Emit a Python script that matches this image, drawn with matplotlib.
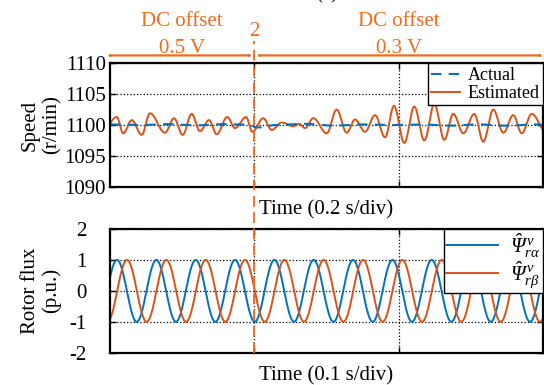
import numpy as np
import matplotlib
matplotlib.use("Agg")
import matplotlib.pyplot as plt
from matplotlib.lines import Line2D
from matplotlib.patches import FancyArrowPatch
from matplotlib import transforms

# speed plot (time in s, 0.2 s/div) - local extrema
est_t = [-0.008, 0.0093, 0.0184, 0.0301, 0.0439, 0.0554, 0.0762, 0.0887, 0.1007,
         0.1132, 0.1247, 0.1372, 0.1478, 0.1625, 0.1732, 0.1885, 0.1972, 0.2124,
         0.2241, 0.2379, 0.2540, 0.2620, 0.2702, 0.2817, 0.3003, 0.3141, 0.3280,
         0.3395, 0.3533, 0.3672, 0.3811, 0.3935, 0.4078, 0.4216, 0.4355, 0.4494,
         0.4632, 0.4757, 0.4895, 0.5048, 0.5172, 0.5311, 0.5450, 0.5588, 0.5705,
         0.5843, 0.6050]
est_v = [1099.5, 1101.3, 1098.65, 1100.8, 1098.4, 1101.9, 1098.75, 1101.1, 1098.4,
         1101.8, 1099.0, 1100.8, 1098.5, 1101.3, 1099.5, 1101.3, 1098.9, 1101.1,
         1099.2, 1100.4, 1099.8, 1100.2, 1099.5, 1101.1, 1098.65, 1102.5, 1098.75,
         1100.9, 1098.9, 1101.6, 1098.0, 1103.1, 1097.1, 1103.0, 1097.5, 1103.4,
         1097.6, 1101.8, 1098.65, 1101.8, 1097.3, 1102.5, 1098.75, 1101.6, 1098.65,
         1101.8, 1098.7]
act_t = [0.0, 0.04, 0.08, 0.12, 0.16, 0.19, 0.205, 0.23, 0.27, 0.31, 0.35, 0.39,
         0.43, 0.47, 0.51, 0.55, 0.59, 0.61]
act_v = [1100.1, 1100.0, 1100.15, 1099.95, 1100.15, 1100.05, 1099.6, 1100.0, 1100.2,
         1099.9, 1100.1, 1100.0, 1100.1, 1099.9, 1100.1, 1099.9, 1100.1, 1100.0]

# rotor flux plot (time in s, 0.1 s/div) - peak/trough times
alpha_t = [-0.0088, 0.0049, 0.0185, 0.0321, 0.0457, 0.0594, 0.0730, 0.0866, 0.1003,
           0.1139, 0.1275, 0.1411, 0.1548, 0.1684, 0.1820, 0.1957, 0.2092, 0.2229,
           0.2365, 0.2502, 0.2638, 0.2774, 0.2910, 0.3046]
beta_t = [-0.0018, 0.0118, 0.0254, 0.0390, 0.0527, 0.0663, 0.0799, 0.0935, 0.1072,
          0.1208, 0.1344, 0.1480, 0.1617, 0.1753, 0.1889, 0.2025, 0.2162, 0.2298,
          0.2434, 0.2570, 0.2707, 0.2843, 0.2979, 0.3115]
alpha_v = [-1, 1] * 12
beta_v = [-1, 1] * 12

speed_ticks = [1090, 1095, 1100, 1105, 1110]
flux_ticks = [-2, -1, 0, 1, 2]

BLUE = '#0072BD'
RED = '#D95319'
ORANGE = '#F26B1D'


def through_extrema(t_ext, v_ext, n=30):
    # join successive extrema with half-cosine segments
    ts, vs = [], []
    for i in range(len(t_ext) - 1):
        s = np.linspace(0, 1, n, endpoint=False)
        ts.append(t_ext[i] + (t_ext[i + 1] - t_ext[i]) * s)
        vs.append(v_ext[i] + (v_ext[i + 1] - v_ext[i]) * (1 - np.cos(np.pi * s)) / 2)
    ts.append([t_ext[-1]])
    vs.append([v_ext[-1]])
    return np.concatenate(ts), np.concatenate(vs)


plt.rcParams['font.family'] = ['Liberation Serif', 'DejaVu Serif']
plt.rcParams['mathtext.fontset'] = 'custom'
plt.rcParams['mathtext.rm'] = 'Liberation Serif:italic'
plt.rcParams['mathtext.it'] = 'Liberation Serif:italic'
plt.rcParams['axes.unicode_minus'] = False
plt.rcParams['font.size'] = 15

fig = plt.figure(figsize=(5.44, 3.85), dpi=100)
ax1 = fig.add_axes([0.2022, 0.515, 0.796, 0.3205])
ax2 = fig.add_axes([0.2022, 0.0839, 0.796, 0.3213])

for ax in (ax1, ax2):
    for sp in ax.spines.values():
        sp.set_linewidth(1.6)
    ax.tick_params(direction='in', length=4, width=1, top=True, right=True,
                   labelbottom=False)
    ax.grid(True, linestyle=':', color='black', linewidth=0.9)

# speed
tt, vv = through_extrema(est_t, est_v)
ax1.plot(tt, vv, color=RED, lw=1.4, label='Estimated')
ta, va = through_extrema(act_t, act_v)
ax1.plot(ta, va, color=BLUE, lw=1.5, ls=(0, (5, 3.5)), label='Actual')
ax1.set_xlim(0, 0.6)
ax1.set_ylim(1090, 1110)
ax1.set_xticks([0.2, 0.4])
ax1.set_yticks(speed_ticks)
ax1.tick_params(axis='y', pad=3)
ax1.set_ylabel('Speed\n(r/min)', linespacing=1.15)
ax1.yaxis.set_label_coords(-0.112, 0.5)
ax1.set_xlabel('Time (0.2 s/div)', labelpad=10)
h, l = ax1.get_legend_handles_labels()
leg1 = ax1.legend(h[::-1], l[::-1], loc='upper right', fontsize=13, frameon=True,
                  fancybox=False, edgecolor='black', framealpha=1,
                  borderaxespad=0, borderpad=0.2, labelspacing=0.05,
                  handlelength=1.6, handletextpad=0.4)
leg1.get_frame().set_linewidth(1.0)

# rotor flux
tx, ya = through_extrema(alpha_t, alpha_v)
ax2.plot(tx, ya, color=BLUE, lw=1.4, label=r'$\hat{\Psi}^{\,v}_{r\alpha}$')
tx, yb = through_extrema(beta_t, beta_v)
ax2.plot(tx, yb, color=RED, lw=1.4, label=r'$\hat{\Psi}^{\,v}_{r\beta}$')
ax2.set_xlim(0, 0.3)
ax2.set_ylim(-2, 2)
ax2.set_xticks([0.1, 0.2])
ax2.set_yticks(flux_ticks)
ax2.tick_params(axis='y', pad=17)
ax2.set_ylabel('Rotor flux\n(p.u.)', linespacing=1.15)
ax2.yaxis.set_label_coords(-0.112, 0.5)
ax2.set_xlabel('Time (0.1 s/div)', labelpad=10)
leg2 = ax2.legend(loc='upper right', fontsize=15, frameon=True, fancybox=False,
                  edgecolor='black', framealpha=1, borderaxespad=0, borderpad=0.1,
                  labelspacing=0.0, handlelength=2.5, handletextpad=0.6)
leg2.get_frame().set_linewidth(1.0)

# switching instant and DC offset annotations
blend = transforms.blended_transform_factory(ax1.transData, fig.transFigure)
bottom_fig = 0.0839
fig.add_artist(Line2D([0.2, 0.2], [bottom_fig, 0.893], transform=blend,
                      color=ORANGE, lw=1.3, ls=(0, (6, 3))))
arrow_kw = dict(arrowstyle='<|-|>,head_length=0.55,head_width=0.25',
                color=ORANGE, lw=1.6, shrinkA=0, shrinkB=0)
y_arr = 0.856
fig.add_artist(FancyArrowPatch((-0.004, y_arr), (0.197, y_arr),
                               transform=blend, **arrow_kw))
fig.add_artist(FancyArrowPatch((0.203, y_arr), (0.6, y_arr),
                               transform=blend, **arrow_kw))
for xc, volt in ((0.1, '0.5 V'), (0.4, '0.3 V')):
    fig.text(xc, 0.944, 'DC offset', transform=blend, ha='center', va='center',
             color=ORANGE, fontsize=15)
    fig.text(xc, 0.874, volt, transform=blend, ha='center', va='center',
             color=ORANGE, fontsize=15)
fig.text(0.2, 0.917, '2', transform=blend, ha='center', va='center',
         color=ORANGE, fontsize=15)
fig.text(0.601, 1.003, '(a)', ha='center', va='baseline', fontsize=15)

fig.savefig('out.png', dpi=100)
